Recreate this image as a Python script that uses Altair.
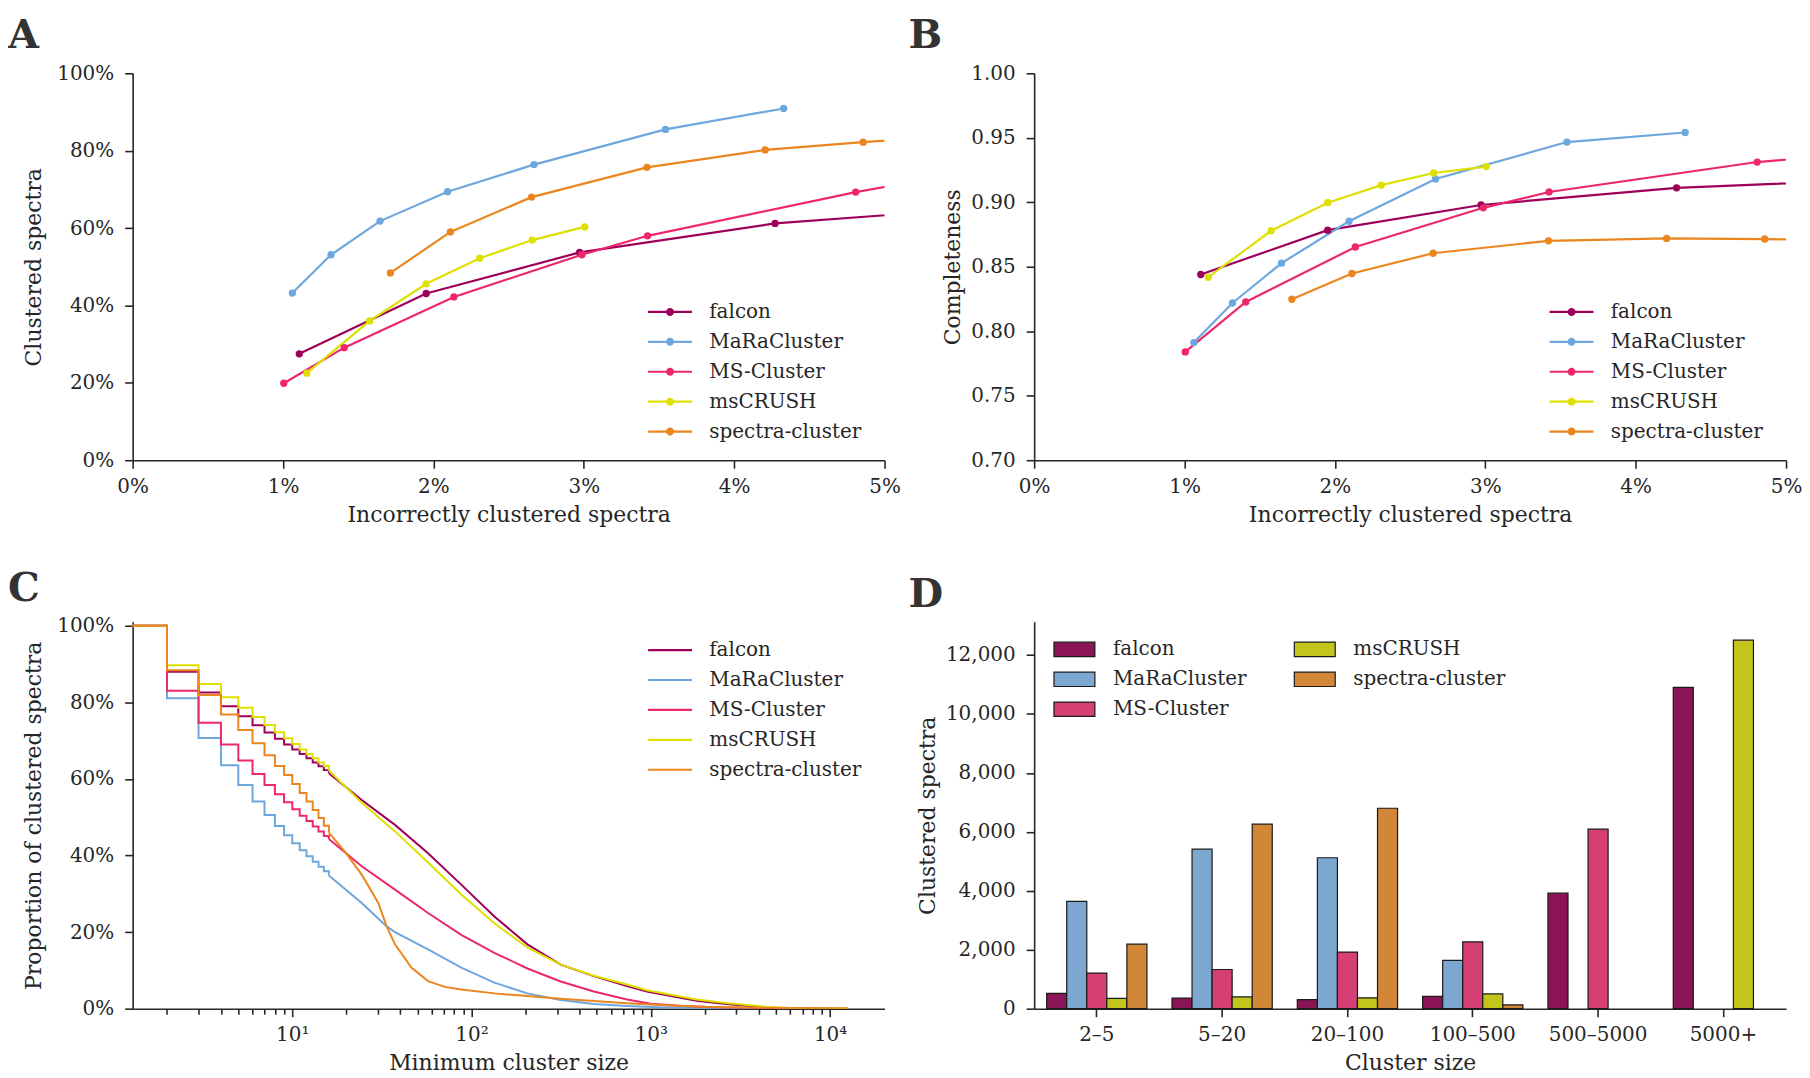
import altair as alt
import pandas as pd

FONT = "DejaVu Serif"
INK = "#262626"

SERIES = ["falcon", "MaRaCluster", "MS-Cluster", "msCRUSH", "spectra-cluster"]
LINE_COLORS = ["#9e0059", "#6da7de", "#ee266d", "#dee000", "#eb861e"]
BAR_COLORS = ["#8a1456", "#7ba7d0", "#d53f74", "#c3c41c", "#d18638"]

# ---- Panels A / B : operating points -------------------------------------
falcon_incorrect = [0.01108, 0.01952, 0.02972, 0.04272, 0.0550]
falcon_clustered = [0.275, 0.431, 0.537, 0.612, 0.6475]
falcon_complete = [0.8440, 0.8784, 0.8979, 0.9112, 0.9171]

mara_incorrect = [0.01062, 0.01319, 0.01645, 0.02094, 0.02669, 0.03543, 0.04329]
mara_clustered = [0.432, 0.531, 0.618, 0.694, 0.764, 0.855, 0.909]
mara_complete = [0.7912, 0.8219, 0.8528, 0.8853, 0.9181, 0.9467, 0.9541]

ms_incorrect = [0.01005, 0.01407, 0.02136, 0.02987, 0.03424, 0.04808, 0.0560]
ms_clustered = [0.199, 0.291, 0.422, 0.531, 0.580, 0.693, 0.747]
ms_complete = [0.7840, 0.8227, 0.8653, 0.8957, 0.9080, 0.9312, 0.9390]

crush_incorrect = [0.01158, 0.01576, 0.01952, 0.02308, 0.02657, 0.03006]
crush_clustered = [0.225, 0.360, 0.456, 0.522, 0.569, 0.603]
crush_complete = [0.8419, 0.8779, 0.8997, 0.9133, 0.9227, 0.9277]

sc_incorrect = [0.01714, 0.02113, 0.02653, 0.03420, 0.04206, 0.04858, 0.0560]
sc_clustered = [0.484, 0.590, 0.680, 0.757, 0.802, 0.822, 0.843]
sc_complete = [0.8248, 0.8448, 0.8605, 0.8701, 0.8720, 0.8715, 0.8700]

# ---- Panel C : proportion of clustered spectra vs minimum cluster size ----
step_sizes = list(range(1, 17))
step_falcon = [1.0, .880, .826, .790, .764, .740, .721, .705, .690, .677, .665, .654, .643, .633, .623, .615]
step_mara = [1.0, .811, .707, .636, .584, .541, .506, .477, .453, .432, .414, .398, .384, .371, .359, .348]
step_ms = [1.0, .830, .747, .690, .648, .613, .584, .560, .539, .521, .504, .490, .476, .463, .451, .443]
step_crush = [1.0, .897, .848, .813, .786, .762, .741, .722, .706, .691, .677, .665, .654, .643, .634, .622]
step_sc = [1.0, .884, .819, .768, .728, .693, .662, .634, .610, .587, .563, .541, .519, .498, .478, .460]

falcon_tail_x = [16, 24.4, 37.4, 57.2, 87.6, 134, 205, 314, 481, 736, 950, 1800, 2630, 4400, 5000, 11000]
falcon_tail_y = [.615, .545, .480, .406, .324, .241, .168, .115, .085, .059, .045, .021, .012, .0035, .001, .0]
mara_tail_x = [16, 24.4, 33.6, 37.4, 57.2, 87.6, 134, 205, 314, 481, 736, 1200, 2000, 4000]
mara_tail_y = [.348, .276, .215, .200, .155, .107, .068, .040, .023, .012, .007, .003, .001, .0]
ms_tail_x = [16, 24.4, 37.4, 57.2, 87.6, 134, 205, 314, 481, 736, 1000, 1500, 2500, 5000, 8000]
ms_tail_y = [.443, .372, .311, .250, .193, .146, .105, .071, .045, .024, .013, .007, .003, .001, .0]
crush_tail_x = [16, 24.4, 37.4, 57.2, 87.6, 134, 205, 314, 481, 736, 950, 1800, 2630, 4400, 6000, 12600]
crush_tail_y = [.622, .538, .463, .382, .298, .223, .160, .115, .086, .063, .048, .024, .015, .005, .002, .0]
sc_tail_x = [16, 19.8, 24.4, 30.2, 33.6, 37.4, 46.3, 57.2, 70.8, 87.6, 134, 205, 314, 481, 736, 1200, 2000, 5000, 12600]
sc_tail_y = [.460, .408, .350, .276, .215, .168, .107, .072, .057, .050, .040, .033, .026, .020, .014, .009, .005, .002, .001]

c_major_ticks = [10, 100, 1000, 10000]
c_minor_ticks = [m * d for d in (1, 10, 100, 1000) for m in range(2, 10)]

# ---- Panel D : clustered spectra per cluster size bin ---------------------
CATS = ["2–5", "5–20", "20–100", "100–500", "500–5000", "5000+"]
bar_falcon = [520, 360, 310, 420, 3920, 10900]
bar_mara = [3640, 5410, 5120, 1640, 0, 0]
bar_ms = [1210, 1330, 1920, 2270, 6090, 0]
bar_crush = [350, 400, 370, 500, 0, 12500]
bar_sc = [2190, 6260, 6800, 130, 0, 0]

# ---------------------------------------------------------------------------
DOT_SUFFIX = "~"
DOT_SERIES = [s + DOT_SUFFIX for s in SERIES]

perf = {
    "falcon": (falcon_incorrect, falcon_clustered, falcon_complete),
    "MaRaCluster": (mara_incorrect, mara_clustered, mara_complete),
    "MS-Cluster": (ms_incorrect, ms_clustered, ms_complete),
    "msCRUSH": (crush_incorrect, crush_clustered, crush_complete),
    "spectra-cluster": (sc_incorrect, sc_clustered, sc_complete),
}
rows = []
for name, (xs, cl, co) in perf.items():
    for x, a, b in zip(xs, cl, co):
        rows.append({"tool": name, "tool_dot": name + DOT_SUFFIX, "incorrect": x,
                     "clustered": a, "complete": b})
perf_df = pd.DataFrame(rows)

steps = {"falcon": step_falcon, "MaRaCluster": step_mara, "MS-Cluster": step_ms,
         "msCRUSH": step_crush, "spectra-cluster": step_sc}
step_df = pd.DataFrame([{"tool": n, "size": s, "prop": v}
                        for n, vals in steps.items() for s, v in zip(step_sizes, vals)])
tails = {"falcon": (falcon_tail_x, falcon_tail_y), "MaRaCluster": (mara_tail_x, mara_tail_y),
         "MS-Cluster": (ms_tail_x, ms_tail_y), "msCRUSH": (crush_tail_x, crush_tail_y),
         "spectra-cluster": (sc_tail_x, sc_tail_y)}
tail_df = pd.DataFrame([{"tool": n, "size": s, "prop": v}
                        for n, (xs, ys) in tails.items() for s, v in zip(xs, ys)])

bars = {"falcon": bar_falcon, "MaRaCluster": bar_mara, "MS-Cluster": bar_ms,
        "msCRUSH": bar_crush, "spectra-cluster": bar_sc}
bar_df = pd.DataFrame([{"tool": n, "bin": c, "count": v}
                       for n, vals in bars.items() for c, v in zip(CATS, vals)])

W, H = 754, 388
# legend symbols: nominal symbol box 35.8 px; the line reaches past it to 44 px
SYM = 1282
LINE_PATH = "M-1.229,0L1.229,0"
DOT_PATH = "M-0.225,0A0.225,0.225,0,1,0,0.225,0A0.225,0.225,0,1,0,-0.225,0Z"
LEG_X = 519.4
LEG_OFF = 19.8


def stroke_legend(ly):
    return alt.Legend(title=None, orient="none", legendX=LEG_X, legendY=ly, padding=0,
                      symbolType=LINE_PATH, symbolSize=SYM, symbolStrokeWidth=2.2,
                      labelFont=FONT, labelFontSize=20, labelColor=INK, labelOffset=LEG_OFF,
                      rowPadding=0, labelLimit=0)


def fill_legend(ly):
    return alt.Legend(title=None, orient="none", legendX=LEG_X, legendY=ly, padding=0,
                      symbolType=DOT_PATH, symbolSize=SYM, symbolStrokeWidth=2.2,
                      symbolStrokeColor="transparent", symbolOpacity=1,
                      labelFont=FONT, labelFontSize=20, labelColor=INK, labelOffset=LEG_OFF,
                      labelOpacity=0, rowPadding=0, labelLimit=0,
                      labelExpr=f"replace(datum.label, '{DOT_SUFFIX}', '')")


def letter(t, dx):
    return alt.TitleParams(text=t, anchor="start", frame="group", orient="top",
                           font=FONT, fontSize=40, fontWeight="bold", color="#333333",
                           dx=dx, offset=7)


def xaxis(**kw):
    return alt.Axis(labelPadding=8, titlePadding=8, **kw)


def yaxis(tp, **kw):
    return alt.Axis(labelPadding=11, titlePadding=tp, **kw)


stroke_scale = alt.Scale(domain=SERIES, range=LINE_COLORS)
x_inc = alt.X("incorrect:Q", scale=alt.Scale(domain=[0, 0.05], nice=False, zero=False),
              axis=xaxis(values=[0, 0.01, 0.02, 0.03, 0.04, 0.05], format=".0%",
                         title="Incorrectly clustered spectra"))


def perf_panel(field, ydomain, yvals, yfmt, ytitle, tp, t, dx):
    y = alt.Y(f"{field}:Q", scale=alt.Scale(domain=ydomain, nice=False, zero=False),
              axis=yaxis(tp, values=yvals, format=yfmt, title=ytitle))
    base = alt.Chart(perf_df)
    lines = base.mark_line(strokeWidth=2.2, clip=True).encode(
        x=x_inc, y=y,
        stroke=alt.Stroke("tool:N", scale=stroke_scale, legend=stroke_legend(219.8)))
    pts = base.mark_circle(size=54, opacity=1, clip=True).encode(
        x=x_inc, y=y,
        fill=alt.Fill("tool_dot:N", scale=alt.Scale(domain=DOT_SERIES, range=LINE_COLORS),
                      legend=fill_legend(219.8)))
    return alt.layer(lines, pts).properties(width=W, height=H, title=letter(t, dx))


panel_a = perf_panel("clustered", [0, 1], [0, 0.2, 0.4, 0.6, 0.8, 1.0], ".0%",
                     "Clustered spectra", 11, "A", -125)
panel_b = perf_panel("complete", [0.7, 1.0], [0.70, 0.75, 0.80, 0.85, 0.90, 0.95, 1.00], ".2f",
                     "Completeness", 6, "B", -126)

c_scale = alt.Scale(type="log", domain=[1.287, 20130], nice=False)
c_y = alt.Y("prop:Q", scale=alt.Scale(domain=[0, 1.0104], nice=False),
            axis=yaxis(11, values=[0, 0.2, 0.4, 0.6, 0.8, 1.0], format=".0%",
                       title="Proportion of clustered spectra"))
label_expr = ("datum.value == 10 ? '10¹' : datum.value == 100 ? '10²' : "
              "datum.value == 1000 ? '10³' : datum.value == 10000 ? '10⁴' : ''")
c_steps = alt.Chart(step_df).mark_line(strokeWidth=2, interpolate="step-after", clip=True).encode(
    x=alt.X("size:Q", scale=c_scale,
            axis=xaxis(values=c_major_ticks, labelExpr=label_expr, orient="bottom",
                       title="Minimum cluster size")),
    y=c_y,
    stroke=alt.Stroke("tool:N", scale=stroke_scale, legend=stroke_legend(8.9)))
c_tails = alt.Chart(tail_df).mark_line(strokeWidth=2, clip=True).encode(
    x=alt.X("size:Q", scale=c_scale,
            axis=alt.Axis(values=c_minor_ticks, labels=False, domain=False, tickSize=5.5,
                          orient="bottom", title=None)),
    y=c_y,
    stroke=alt.Stroke("tool:N", scale=stroke_scale, legend=None))
panel_c = alt.layer(c_steps, c_tails).resolve_axis(x="independent").properties(
    width=W, height=H, title=letter("C", -125))

bar_legend = alt.Legend(title=None, orient="none", legendX=20.4, legendY=7.7, padding=0,
                        columns=2, values=SERIES,
                        symbolType="M-1.079,-0.379L1.079,-0.379L1.079,0.379L-1.079,0.379Z",
                        symbolSize=1444,
                        symbolStrokeColor="#1a1a1a", symbolStrokeWidth=1.2, symbolOpacity=1,
                        labelFont=FONT, labelFontSize=20, labelColor=INK, labelOffset=18.6,
                        rowPadding=0, columnPadding=45, labelLimit=0)
panel_d = alt.Chart(bar_df).transform_filter("datum.count > 0").mark_bar(
    stroke="#1a1a1a", strokeWidth=1.2, opacity=1).encode(
    x=alt.X("bin:N", sort=CATS, scale=alt.Scale(domain=CATS, paddingInner=0.2, paddingOuter=0.1),
            axis=xaxis(labelAngle=0, ticks=True, tickSize=8, title="Cluster size")),
    xOffset=alt.XOffset("tool:N", scale=alt.Scale(domain=SERIES, paddingInner=0, paddingOuter=0)),
    y=alt.Y("count:Q", scale=alt.Scale(domain=[0, 13125], nice=False),
            axis=yaxis(6, values=[0, 2000, 4000, 6000, 8000, 10000, 12000], format=",d",
                       title="Clustered spectra")),
    color=alt.Color("tool:N", scale=alt.Scale(domain=SERIES, range=BAR_COLORS), legend=bar_legend),
).properties(width=W, height=H, title=letter("D", -126))

chart = alt.concat(panel_a, panel_b, panel_c, panel_d, columns=2,
                   spacing={"row": 162, "column": 150}, bounds="flush").resolve_scale(
    stroke="independent", fill="independent", color="independent"
).resolve_legend(stroke="independent", fill="independent", color="independent").properties(
    padding={"top": 7, "left": 0, "right": 0, "bottom": 0}
).configure_view(stroke=None).configure_axis(
    grid=False, labelFont=FONT, labelFontSize=20, labelColor=INK, titleFont=FONT,
    titleFontSize=22, titleFontWeight="normal", titleColor=INK, domainColor=INK,
    domainWidth=1.6, tickColor=INK, tickWidth=1.6, tickSize=8,
    labelFlush=False, labelOverlap=False
)

chart.save("out.html", embed_options={"renderer": "svg", "actions": False})
